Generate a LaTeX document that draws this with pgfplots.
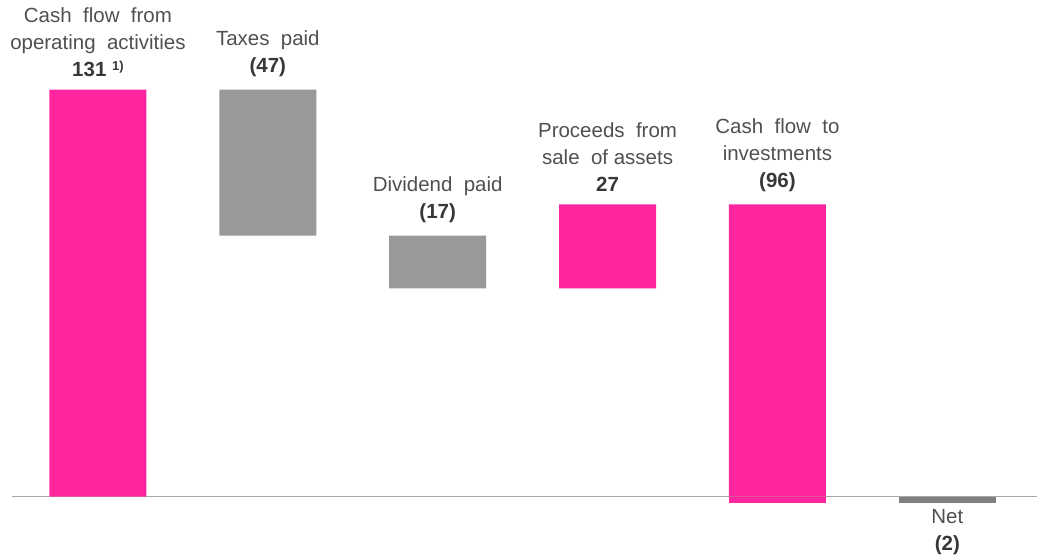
\documentclass[border=0pt]{standalone}
\usepackage{fontspec}
\setmainfont{Liberation Sans}
\usepackage{pgfplots}
\pgfplotsset{compat=1.18}
\definecolor{pinkc}{RGB}{255,38,160}
\definecolor{barg}{RGB}{153,153,153}
\definecolor{netg}{RGB}{128,128,128}
\definecolor{txt}{RGB}{80,80,80}
\definecolor{val}{RGB}{56,56,56}
\definecolor{axg}{RGB}{166,166,166}
\tikzset{lbl/.style={inner sep=0pt, align=center, font=\fontsize{20.5}{27}\selectfont, text=txt}}
\begin{document}
\begin{tikzpicture}
\begin{axis}[
  width=1038pt, height=554pt, scale only axis,
  xmin=-0.5765, xmax=5.5294,
  ymin=-18.33, ymax=159.8,
  hide axis,
  ybar stacked, bar width=0.5706,
  clip=false,
]
\addplot[draw=none, fill=none] coordinates {(0,0)(1,84)(2,67)(3,67)(4,0)(5,0)};
\addplot[draw=none, fill=pinkc] coordinates {(0,131)(1,0)(2,0)(3,27)(4,94)(5,0)};
\addplot[draw=none, fill=barg] coordinates {(0,0)(1,47)(2,17)(3,0)(4,0)(5,0)};
\addplot[draw=none, fill=pinkc] coordinates {(0,0)(1,0)(2,0)(3,0)(4,-2)(5,0)};
\addplot[draw=none, fill=netg] coordinates {(0,0)(1,0)(2,0)(3,0)(4,0)(5,-2)};
\path (rel axis cs:0,0) rectangle (rel axis cs:1,1);
\draw[color=axg, line width=1.5pt] (axis cs:-0.506,0) -- (axis cs:5.5294,0);
\node[lbl, anchor=south, yshift=13pt] at (axis cs:0,131) {Cash\ \ flow\ \ from\\operating\ \ activities\\{\bfseries\color{val}131 \raisebox{6pt}{\fontsize{13}{13}\selectfont 1)}}};
\node[lbl, anchor=south, yshift=13pt] at (axis cs:1,131) {Taxes\ \ paid\\{\bfseries\color{val}(47)}};
\node[lbl, anchor=south, yshift=13pt] at (axis cs:2,84) {Dividend\ \ paid\\{\bfseries\color{val}(17)}};
\node[lbl, anchor=south, yshift=13pt] at (axis cs:3,94) {Proceeds\ \ from\\sale\ \ of assets\\{\bfseries\color{val}27}};
\node[lbl, anchor=south, yshift=13pt] at (axis cs:4,94) {Cash\ \ flow\ \ to\\investments\\{\bfseries\color{val}(96)}};
\node[lbl, anchor=north, yshift=-6pt] at (axis cs:5,-2) {Net\\{\bfseries\color{val}(2)}};
\end{axis}
\end{tikzpicture}
\end{document}
